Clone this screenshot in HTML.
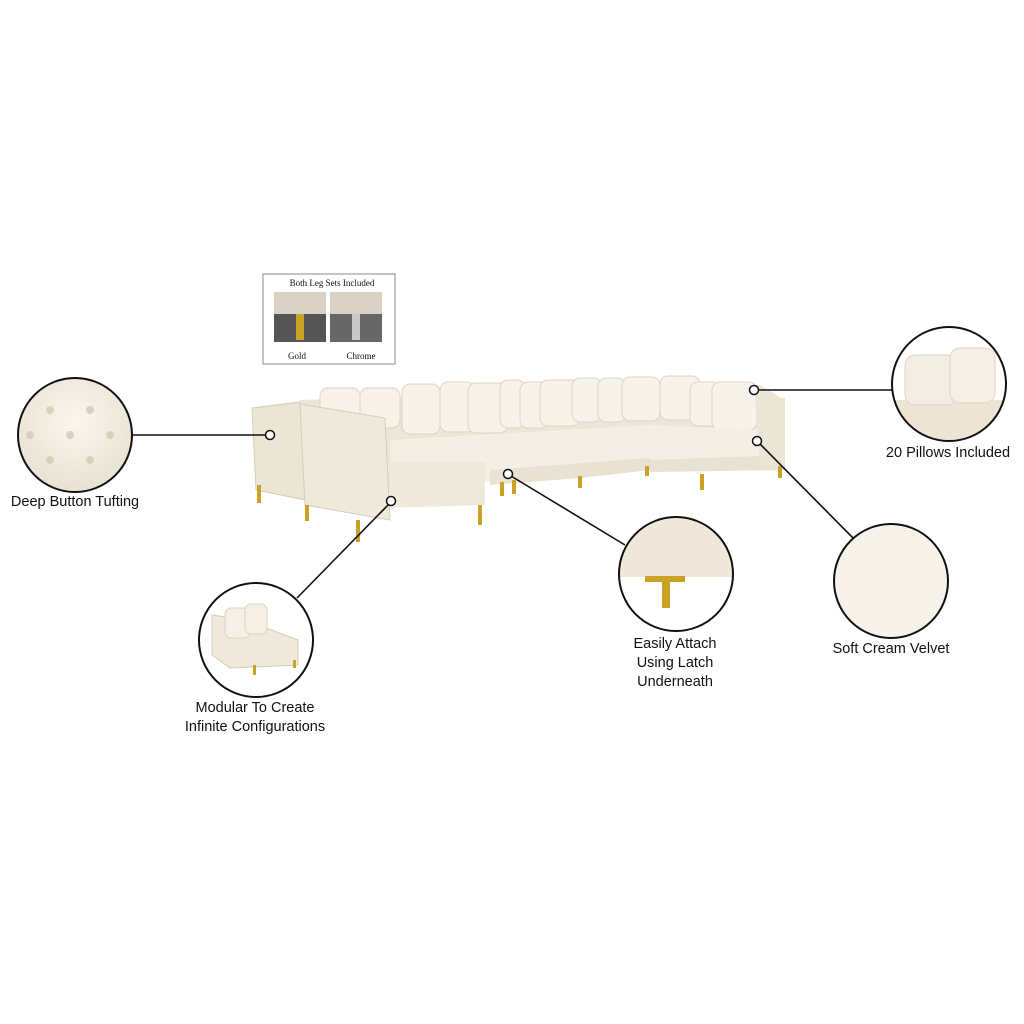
<!DOCTYPE html>
<html><head><meta charset="utf-8"><style>
html,body{margin:0;padding:0;background:#fff;}
svg{display:block}
text{font-family:"Liberation Sans",sans-serif;fill:#111;}
</style></head><body>
<svg width="1024" height="1024" viewBox="0 0 1024 1024" xmlns="http://www.w3.org/2000/svg">
<defs>
<radialGradient id="cr" cx="50%" cy="40%" r="60%"><stop offset="0" stop-color="#fbf7ee"/><stop offset="1" stop-color="#e6dfd0"/></radialGradient>
<clipPath id="c1"><circle cx="75" cy="435" r="57"/></clipPath>
<clipPath id="c2"><circle cx="949" cy="384" r="57"/></clipPath>
<clipPath id="c4"><circle cx="676" cy="574" r="57"/></clipPath>
<clipPath id="c5"><circle cx="256" cy="640" r="57"/></clipPath>
</defs>

<!-- legs box -->
<rect x="263" y="274" width="132" height="90" fill="#fff" stroke="#888" stroke-width="1"/>
<text x="332" y="286" font-size="9" text-anchor="middle" font-family="Liberation Serif" style="font-family:'Liberation Serif',serif">Both Leg Sets Included</text>
<rect x="274" y="292" width="52" height="50" fill="#555"/>
<rect x="274" y="292" width="52" height="22" fill="#d8d2c4"/>
<rect x="296" y="314" width="8" height="26" fill="#c9a227"/>
<rect x="330" y="292" width="52" height="50" fill="#666"/>
<rect x="330" y="292" width="52" height="22" fill="#d8d2c4"/>
<rect x="352" y="314" width="8" height="26" fill="#c8c8c8"/>
<text x="297" y="359" font-size="9" text-anchor="middle" style="font-family:'Liberation Serif',serif">Gold</text>
<text x="361" y="359" font-size="9" text-anchor="middle" style="font-family:'Liberation Serif',serif">Chrome</text>

<!-- sofa -->
<g>
<!-- back row -->
<path d="M300 400 L760 385 L785 400 L785 460 L650 462 L640 470 L490 480 L300 470 Z" fill="#ece6d8"/>
<!-- pillows -->
<g fill="#f7f3ea" stroke="#ddd5c3" stroke-width="1">
<rect x="320" y="388" width="40" height="35" rx="8"/>
<rect x="360" y="388" width="40" height="40" rx="8"/>
<rect x="402" y="384" width="38" height="50" rx="8"/>
<rect x="440" y="382" width="35" height="50" rx="8"/>
<rect x="468" y="383" width="40" height="50" rx="8"/>
<rect x="500" y="380" width="25" height="48" rx="8"/>
<rect x="520" y="382" width="30" height="46" rx="8"/>
<rect x="540" y="380" width="40" height="46" rx="8"/>
<rect x="572" y="378" width="30" height="44" rx="8"/>
<rect x="598" y="378" width="28" height="44" rx="8"/>
<rect x="622" y="377" width="38" height="44" rx="8"/>
<rect x="660" y="376" width="40" height="44" rx="8"/>
<rect x="690" y="382" width="30" height="44" rx="8"/>
<rect x="712" y="382" width="45" height="48" rx="8"/>
</g>
<!-- seats -->
<path d="M390 440 L650 425 L760 430 L785 440 L785 465 L650 470 L640 470 L490 482 L390 470 Z" fill="#f4efe4"/>
<path d="M385 462 L485 462 L485 505 L385 508 Z" fill="#efe9dc"/>
<path d="M490 470 L650 458 L650 470 L580 478 L490 485 Z" fill="#e9e2d2"/>
<path d="M650 460 L785 455 L785 470 L650 472 Z" fill="#e9e2d2"/>
<!-- left arm modules -->
<path d="M252 408 L300 402 L305 500 L256 490 Z" fill="#ebe5d6" stroke="#d6ccb8"/>
<path d="M300 404 L385 418 L390 520 L305 505 Z" fill="#efe9dc" stroke="#d6ccb8"/>
<path d="M755 398 L785 398 L785 465 L760 465 Z" fill="#ebe5d6"/>
<!-- legs -->
<g fill="#c9a227">
<rect x="257" y="485" width="4" height="18"/>
<rect x="305" y="505" width="4" height="16"/>
<rect x="356" y="520" width="4" height="22"/>
<rect x="478" y="505" width="4" height="20"/>
<rect x="500" y="482" width="4" height="14"/>
<rect x="512" y="480" width="4" height="14"/>
<rect x="578" y="476" width="4" height="12"/>
<rect x="645" y="466" width="4" height="10"/>
<rect x="700" y="474" width="4" height="16"/>
<rect x="778" y="466" width="4" height="12"/>
</g>
</g>

<!-- callout circles -->
<g stroke="#111" stroke-width="1.6">
<line x1="133" y1="435" x2="266" y2="435"/>
<line x1="892" y1="390" x2="758" y2="390"/>
<line x1="760" y1="444" x2="855" y2="540"/>
<line x1="511" y1="476" x2="625" y2="545"/>
<line x1="389" y1="504" x2="297" y2="598"/>
</g>
<g fill="#fff" stroke="#111" stroke-width="1.5">
<circle cx="270" cy="435" r="4.5"/>
<circle cx="754" cy="390" r="4.5"/>
<circle cx="757" cy="441" r="4.5"/>
<circle cx="508" cy="474" r="4.5"/>
<circle cx="391" cy="501" r="4.5"/>
</g>

<!-- circle contents -->
<g clip-path="url(#c1)"><rect x="10" y="370" width="130" height="130" fill="url(#cr)"/>
<g fill="#d9d0bd"><circle cx="50" cy="410" r="4"/><circle cx="90" cy="410" r="4"/><circle cx="70" cy="435" r="4"/><circle cx="110" cy="435" r="4"/><circle cx="30" cy="435" r="4"/><circle cx="50" cy="460" r="4"/><circle cx="90" cy="460" r="4"/></g></g>
<g clip-path="url(#c2)"><rect x="890" y="325" width="120" height="120" fill="#fff"/>
<rect x="890" y="400" width="120" height="45" fill="#ece5d6"/>
<rect x="905" y="355" width="52" height="50" rx="10" fill="#f3eee3" stroke="#ddd3c0"/>
<rect x="950" y="348" width="45" height="55" rx="10" fill="#f5f0e6" stroke="#ddd3c0"/></g>
<circle cx="891" cy="581" r="57" fill="#f6f2ea"/>
<g clip-path="url(#c4)"><rect x="615" y="515" width="125" height="120" fill="#fff"/>
<rect x="615" y="515" width="125" height="62" fill="#efe8da"/>
<rect x="645" y="576" width="40" height="6" fill="#c9a227"/><rect x="662" y="580" width="8" height="28" fill="#c9a227"/></g>
<g clip-path="url(#c5)"><rect x="195" y="580" width="125" height="120" fill="#fff"/>
<path d="M212 615 L245 620 L298 640 L298 665 L230 668 L212 655 Z" fill="#efe9dc" stroke="#d6ccb8"/>
<rect x="225" y="608" width="25" height="30" rx="6" fill="#f5f0e6" stroke="#ddd3c0"/>
<rect x="245" y="604" width="22" height="30" rx="6" fill="#f5f0e6" stroke="#ddd3c0"/>
<rect x="253" y="665" width="3" height="10" fill="#c9a227"/><rect x="293" y="660" width="3" height="8" fill="#c9a227"/></g>
<g fill="none" stroke="#111" stroke-width="2">
<circle cx="75" cy="435" r="57"/>
<circle cx="949" cy="384" r="57"/>
<circle cx="891" cy="581" r="57"/>
<circle cx="676" cy="574" r="57"/>
<circle cx="256" cy="640" r="57"/>
</g>

<!-- labels -->
<g font-size="14.5" text-anchor="middle">
<text x="75" y="506">Deep Button Tufting</text>
<text x="948" y="457">20 Pillows Included</text>
<text x="891" y="653">Soft Cream Velvet</text>
<text x="675" y="648">Easily Attach</text>
<text x="675" y="667">Using Latch</text>
<text x="675" y="686">Underneath</text>
<text x="255" y="712">Modular To Create</text>
<text x="255" y="731">Infinite Configurations</text>
</g>
</svg>
</body></html>
